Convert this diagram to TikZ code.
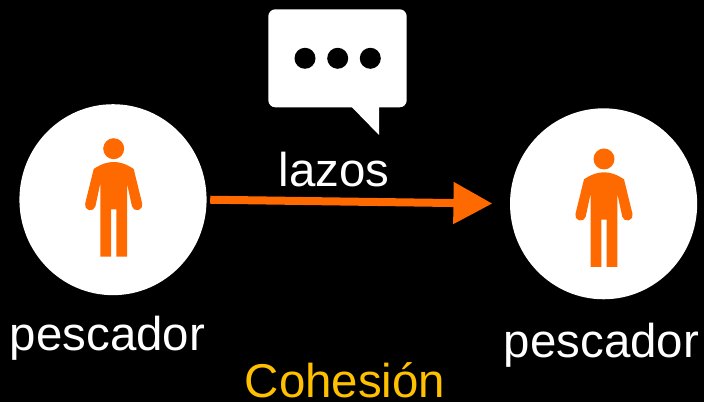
\documentclass[tikz,border=0pt]{standalone}
\usepackage{fontspec}
\setmainfont{Liberation Sans}
\usetikzlibrary{arrows.meta,shapes.geometric}
\definecolor{fisherorange}{HTML}{FF6A00}
\definecolor{cohesiongold}{HTML}{FFC000}
\tikzset{
	fisher/.style={ellipse,fill=white,inner sep=0pt,minimum width=3.744cm,minimum height=3.82cm},
	lbl/.style={text=white,font=\fontsize{27}{30}\selectfont,inner sep=0pt,anchor=base},
	person/.pic={
		\fill[fisherorange] (0,0) circle (10.5);
		\fill[fisherorange] (-20,-20.3) .. controls (-12,-15) and (-6,-13.3) .. (0,-13.3) .. controls (6,-13.3) and (12,-15) .. (20,-20.3) -- (28.5,-54.9) arc[start angle=15,end angle=-165,radius=5.3] -- (13.3,-34.6) -- (13.3,-108) -- (2.6,-108) -- (2.6,-60.6) -- (-2.7,-60.6) -- (-2.7,-108) -- (-13.4,-108) -- (-13.4,-34.6) -- (-18.3,-57.7) arc[start angle=-15,end angle=-195,radius=5.3] -- cycle;
	}
}
\begin{document}
\begin{tikzpicture}[x=0.02cm,y=0.02cm]
	\useasboundingbox (0,0) rectangle (704,402);
	\fill[black] (0,0) rectangle (704,402);
	
	% Fishers
	\node[fisher] (fisherA) at (113,202.3) {};
	\node[fisher] (fisherB) at (603.6,198.2) {};
	\pic at (113.7,253.3) {person};
	\pic at (604,243) {person};
	
	% Speech bubble
	\fill[white,rounded corners=4] (268.3,294.7) rectangle (406.7,392.7);
	\fill[white] (351.7,295) -- (379,267) -- (379,295) -- cycle;
	\foreach \dotx in {305,337.7,370.3}
		\fill[black] (\dotx,343.7) circle (10.5);
	
	% Tie
	\draw[draw=fisherorange,line width=0.16cm,-{Triangle[length=0.78cm,width=0.8cm]},shorten <=0.066cm,shorten >=0.345cm] (fisherA.0) -- (fisherB.180);
	
	% Labels
	\node[lbl] (tieLabel) at (334,215.3) {lazos};
	\node[lbl] (labelA) at (107.5,51.3) {pescador};
	\node[lbl] (labelB) at (601.5,44) {pescador};
	\node[lbl,text=cohesiongold] (cohesionLabel) at (345,4.7) {Cohesión};
	
\end{tikzpicture}
\end{document}
